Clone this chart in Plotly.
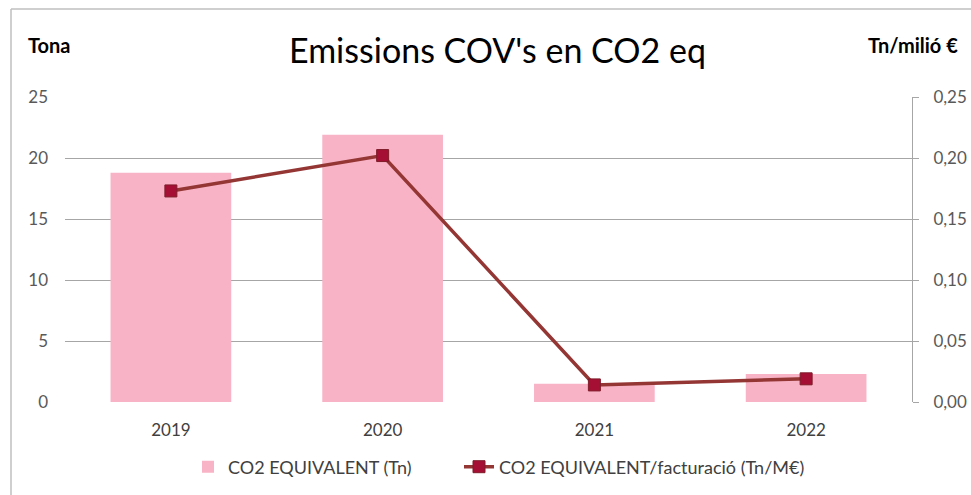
import plotly.graph_objects as go

years = ["2019", "2020", "2021", "2022"]
co2_tn = [18.8, 21.9, 1.5, 2.3]
co2_per_meur = [0.173, 0.202, 0.014, 0.019]

left_ticks = [0, 5, 10, 15, 20, 25]
right_ticks = [0, 0.05, 0.10, 0.15, 0.20, 0.25]
right_labels = ["0,00", "0,05", "0,10", "0,15", "0,20", "0,25"]

font = "Lato, 'Open Sans', sans-serif"
grey = "#595959"

fig = go.Figure()
fig.add_trace(go.Bar(
    x=years, y=co2_tn,
    name="CO2 EQUIVALENT (Tn)",
    marker=dict(color="#F8B3C6", line=dict(width=0)),
    legend="legend",
))
fig.add_trace(go.Scatter(
    x=years, y=co2_per_meur,
    name="CO2 EQUIVALENT/facturació (Tn/M€)",
    yaxis="y2",
    mode="lines+markers",
    line=dict(color="#943634", width=3.5),
    marker=dict(symbol="square", size=12, color="#A50F34",
                line=dict(color="#7F1D2A", width=1)),
    legend="legend2",
))

legend_font = dict(size=18, color="#404040")

fig.update_layout(
    width=971, height=495,
    margin=dict(l=65, r=59, t=97, b=93),
    paper_bgcolor="white", plot_bgcolor="white",
    font=dict(family=font, size=17, color=grey),
    bargap=0.43,
    showlegend=True,
    legend=dict(orientation="h", xref="container", yref="container",
                x=188 / 971, xanchor="left", y=1 - 467 / 495, yanchor="middle",
                font=legend_font),
    legend2=dict(orientation="h", xref="container", yref="container",
                 x=459 / 971, xanchor="left", y=1 - 467 / 495, yanchor="middle",
                 font=legend_font),
    xaxis=dict(showgrid=False, showline=False, ticks="", automargin=False,
               tickfont=dict(size=17, color="#404040"), ticklabelstandoff=16),
    yaxis=dict(range=[0, 25], tickvals=left_ticks, showgrid=True,
               gridcolor="#A6A6A6", gridwidth=1, zeroline=False, showline=False,
               ticks="", ticklabelstandoff=16, automargin=False),
    yaxis2=dict(range=[0, 25 / 100], tickvals=right_ticks, ticktext=right_labels,
                overlaying="y", side="right", showgrid=False, zeroline=False,
                showline=True, linecolor="#A6A6A6", linewidth=1,
                ticks="outside", ticklen=6, tickcolor="#A6A6A6",
                ticklabelstandoff=11, automargin=False),
    annotations=[
        dict(text="Emissions COV's en CO2 eq", xref="paper", yref="paper",
             x=(497 - 65) / 847, y=(402 - 50) / 305, xanchor="center", yanchor="middle",
             showarrow=False, font=dict(size=34, color="black", family=font)),
        dict(text="<b>Tona</b>", xref="paper", yref="paper",
             x=(26 - 65) / 847, y=(402 - 45) / 305, xanchor="left", yanchor="middle",
             showarrow=False, font=dict(size=20, color="black", family=font)),
        dict(text="<b>Tn/milió €</b>", xref="paper", yref="paper",
             x=(960 - 65) / 847, y=(402 - 45) / 305, xanchor="right", yanchor="middle",
             showarrow=False, font=dict(size=20, color="black", family=font)),
    ],
    shapes=[
        dict(type="line", xref="paper", yref="paper",
             x0=(11 - 65) / 847, x1=(11 - 65) / 847, y0=(402 - 9) / 305, y1=-0.5,
             line=dict(color="#BFBFBF", width=1.5)),
        dict(type="line", xref="paper", yref="paper",
             x0=(11 - 65) / 847, x1=1.2, y0=(402 - 9) / 305, y1=(402 - 9) / 305,
             line=dict(color="#BFBFBF", width=1.5)),
    ],
)

# drop the default page margin so the figure sits at the window origin
fig.write_html("out.html", config={"displayModeBar": False},
               post_script="document.body.style.margin='0';")
